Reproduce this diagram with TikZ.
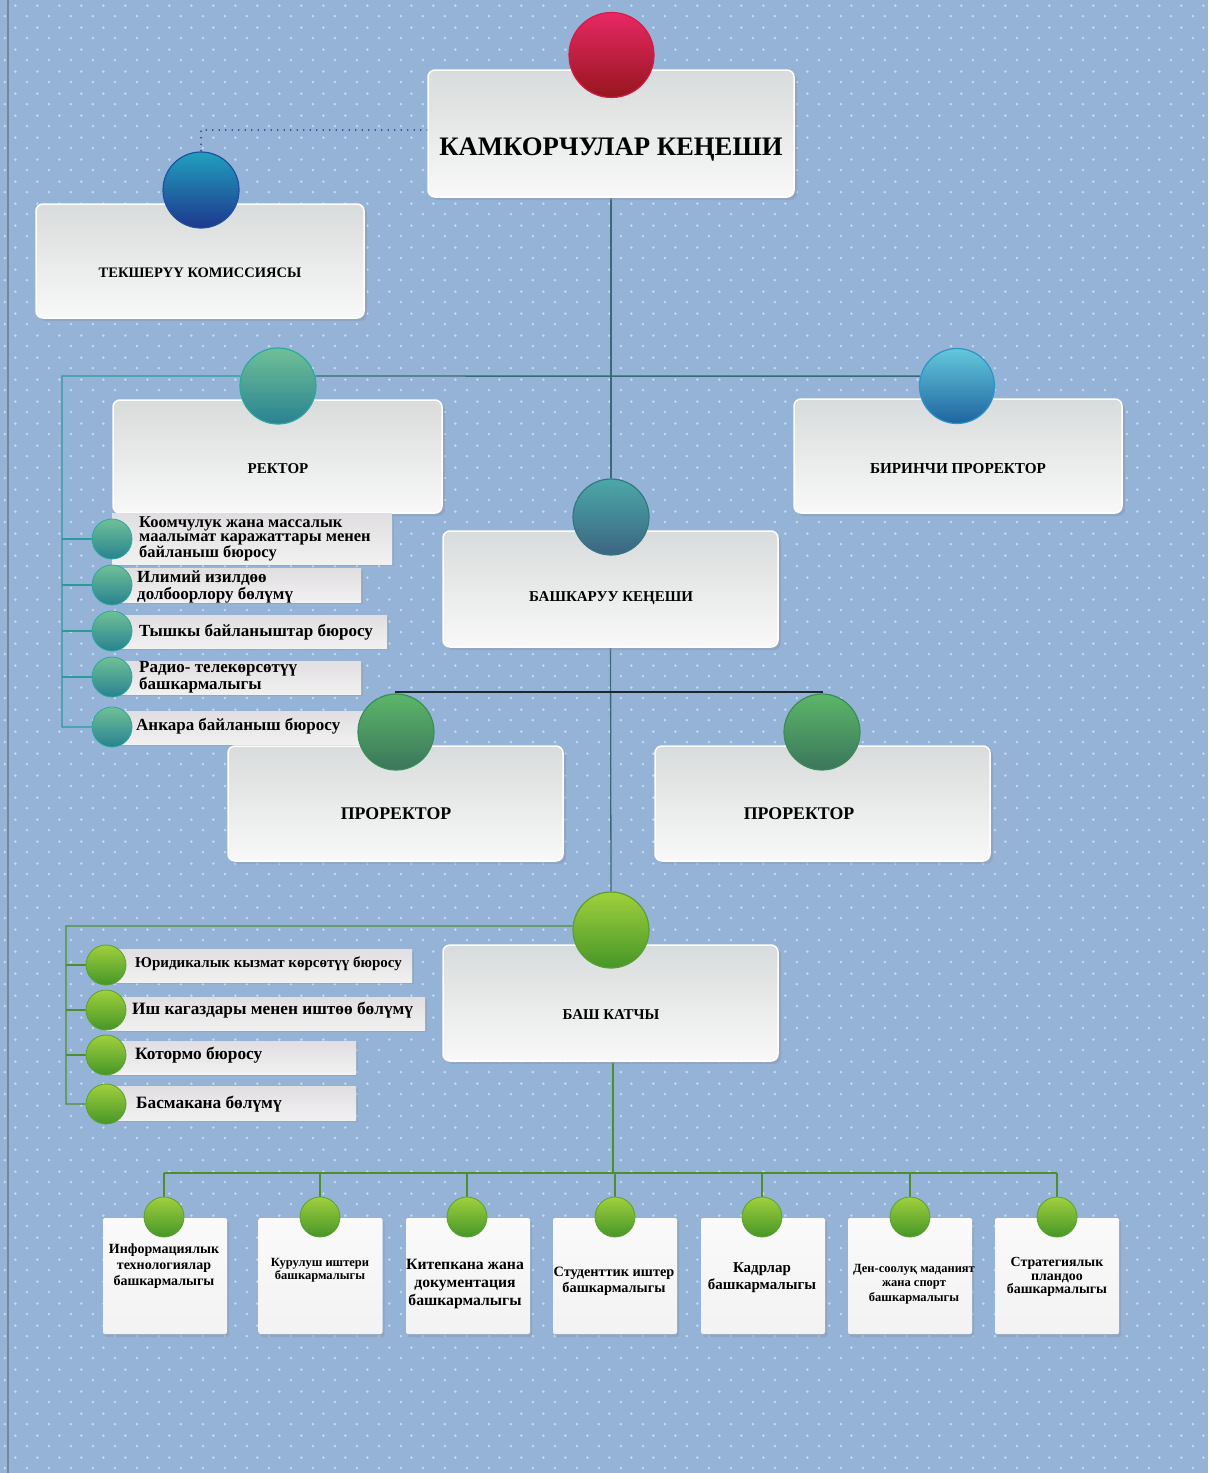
\documentclass[tikz,border=0pt]{standalone}
\usepackage{fontspec}
\setmainfont{Liberation Serif}
\usetikzlibrary{shadows,patterns,calc}
\pgfdeclarelayer{back}
\pgfdeclarelayer{lines}
\pgfsetlayers{back,lines,main}
\definecolor{bgblue}{HTML}{95B3D7}
\definecolor{dotc}{HTML}{C6DCEC}
\definecolor{boxtop}{HTML}{D9DCDC}
\definecolor{boxbot}{HTML}{F8F8F8}
\definecolor{shadowc}{HTML}{8A98AC}
\definecolor{bartop}{HTML}{E0DEE0}
\definecolor{barbot}{HTML}{F2F1F2}
\definecolor{trunkc}{HTML}{3E6878}
\definecolor{tealc}{HTML}{2A9A9C}
\definecolor{greenl}{HTML}{4E8E30}
\definecolor{dotline}{HTML}{24348A}
\pgfdeclarepatternformonly{bgdots}{\pgfqpoint{0pt}{0pt}}{\pgfqpoint{21.5pt}{21.5pt}}{\pgfqpoint{21.5pt}{21.5pt}}{%
  \pgfpathcircle{\pgfqpoint{5pt}{5pt}}{1.4pt}%
  \pgfpathcircle{\pgfqpoint{15.75pt}{15.75pt}}{1.4pt}%
  \pgfusepath{fill}}
\newcommand\fs[2]{\fontsize{#1}{#2}\selectfont}
\tikzset{
  bigbox/.style={rectangle, rounded corners=7pt, draw=white, line width=1.5pt,
    top color=boxtop, bottom color=boxbot, inner sep=0pt,
    drop shadow={shadow xshift=3pt, shadow yshift=-3pt, fill=shadowc, opacity=0.5}},
  bar/.style={rectangle, inner sep=0pt, top color=bartop, bottom color=barbot,
    drop shadow={shadow xshift=2pt, shadow yshift=-2pt, fill=shadowc, opacity=0.4}},
  card/.style={rectangle, rounded corners=2pt, inner sep=0pt, top color=white!96!gray, bottom color=white!90!gray,
    drop shadow={shadow xshift=2pt, shadow yshift=-3pt, fill=shadowc, opacity=0.5}},
  ball/.style={circle, inner sep=0pt, minimum size=#1, line width=1.2pt},
  redball/.style={top color={rgb,255:red,232;green,40;blue,100}, middle color={rgb,255:red,225;green,20;blue,70}, bottom color={rgb,255:red,150;green,22;blue,30}, draw={rgb,255:red,215;green,25;blue,70}},
  blueball/.style={top color={rgb,255:red,32;green,160;blue,190}, middle color={rgb,255:red,18;green,110;blue,170}, bottom color={rgb,255:red,30;green,55;blue,140}, draw={rgb,255:red,30;green,80;blue,160}},
  tealball/.style={top color={rgb,255:red,112;green,192;blue,150}, middle color={rgb,255:red,28;green,178;blue,176}, bottom color={rgb,255:red,40;green,130;blue,145}, draw={rgb,255:red,40;green,170;blue,160}},
  cyanball/.style={top color={rgb,255:red,100;green,200;blue,220}, middle color={rgb,255:red,24;green,178;blue,216}, bottom color={rgb,255:red,30;green,100;blue,160}, draw={rgb,255:red,40;green,150;blue,200}},
  slateball/.style={top color={rgb,255:red,76;green,168;blue,168}, bottom color={rgb,255:red,60;green,100;blue,130}, draw={rgb,255:red,50;green,120;blue,130}},
  dgreenball/.style={top color={rgb,255:red,92;green,182;blue,104}, bottom color={rgb,255:red,58;green,118;blue,92}, draw={rgb,255:red,60;green,140;blue,90}},
  lgreenball/.style={top color={rgb,255:red,160;green,208;blue,60}, middle color={rgb,255:red,120;green,190;blue,40}, bottom color={rgb,255:red,70;green,150;blue,40}, draw={rgb,255:red,90;green,160;blue,50}},
  lbl/.style={inner sep=0pt, text=black, font=\bfseries},
  conn/.style={line width=1.4pt},
}
\begin{document}
\begin{tikzpicture}[x=1pt,y=-1pt]
\useasboundingbox (0,0) rectangle (1208,1473);
\begin{pgfonlayer}{back}
  \fill[bgblue] (0,0) rectangle (1208,1473);
  \fill[pattern=bgdots, pattern color=dotc] (0,0) rectangle (1208,1473);
  \draw[line width=1.2pt, color={rgb,255:red,120;green,135;blue,155}] (8,0) -- (8,1473);
\end{pgfonlayer}

% ---- big boxes ----
\node[bigbox, minimum width=366pt, minimum height=127pt] (kkbox) at (611,133.5) {};
\node[bigbox, minimum width=328pt, minimum height=114pt] (tkbox) at (200,261) {};
\node[bigbox, minimum width=329pt, minimum height=113pt] (rbox) at (277.5,456.5) {};
\node[bigbox, minimum width=328pt, minimum height=114pt] (bpbox) at (958,456) {};

% ---- rector sub-items bars ----
\node[bar, minimum width=280pt, minimum height=51pt] (s1) at (252,538.5) {};
\node[bar, minimum width=249pt, minimum height=34pt] (s2) at (236.5,585) {};
\node[bar, minimum width=275pt, minimum height=33pt] (s3) at (249.5,631.5) {};
\node[bar, minimum width=249pt, minimum height=33pt] (s4) at (236.5,677.5) {};
\node[bar, minimum width=253pt, minimum height=33pt] (s5) at (238.5,727.5) {};

\node[bigbox, minimum width=335pt, minimum height=116pt] (bkbox) at (610.5,589) {};
\node[bigbox, minimum width=335pt, minimum height=115pt] (p1box) at (395.5,803.5) {};
\node[bigbox, minimum width=335pt, minimum height=115pt] (p2box) at (822.5,803.5) {};
\node[bigbox, minimum width=335pt, minimum height=116pt] (kbbox) at (610.5,1003) {};

% ---- secretary sub-item bars ----
\node[bar, minimum width=306pt, minimum height=33pt] (g1) at (259,965.5) {};
\node[bar, minimum width=319pt, minimum height=33pt] (g2) at (265.5,1013.5) {};
\node[bar, minimum width=250pt, minimum height=33pt] (g3) at (231,1057.5) {};
\node[bar, minimum width=250pt, minimum height=34pt] (g4) at (231,1103) {};

% ---- bottom cards ----
\foreach \n/\x in {1/165,2/320.5,3/468,4/615,5/763,6/910,7/1057}{
  \node[card, minimum width=124pt, minimum height=116pt] (b\n) at (\x,1276) {};
}

% ---- balls ----
\node[ball=85pt, redball] (kc) at (611.5,55) {};
\node[ball=76pt, blueball] (tc) at (201,190) {};
\node[ball=76pt, tealball] (rc) at (278,386) {};
\node[ball=75pt, cyanball] (bc) at (957,386) {};
\node[ball=76pt, slateball] (bkc) at (611,517) {};
\node[ball=76pt, dgreenball] (p1c) at (396,732) {};
\node[ball=76pt, dgreenball] (p2c) at (822,732) {};
\node[ball=76pt, lgreenball] (kbc) at (611,930) {};
\foreach \n/\y in {1/539,2/585,3/631,4/677,5/727}{
  \node[ball=40pt, tealball, line width=0.8pt] (sc\n) at (112,\y) {};
}
\foreach \n/\y in {1/965,2/1010,3/1055,4/1104}{
  \node[ball=40pt, lgreenball, line width=0.8pt] (gc\n) at (106,\y) {};
}
\foreach \n/\x in {1/164,2/320,3/467,4/615,5/762,6/910,7/1057}{
  \node[ball=40pt, lgreenball, line width=0.8pt] (bb\n) at (\x,1217) {};
}

% ---- texts ----
\node[lbl, font=\bfseries\fs{26.7}{30}, anchor=base] (kkt) at (611,155) {КАМКОРЧУЛАР КЕҢЕШИ};
\node[lbl, font=\bfseries\fs{14.5}{17}, anchor=base] (tkt) at (200,277) {ТЕКШЕРҮҮ КОМИССИЯСЫ};
\node[lbl, font=\bfseries\fs{15}{17}, anchor=base] (rt) at (278,473) {РЕКТОР};
\node[lbl, font=\bfseries\fs{15.2}{17}, anchor=base] (bpt) at (958,473) {БИРИНЧИ ПРОРЕКТОР};
\node[lbl, font=\bfseries\fs{15}{17}, anchor=base] (bkt) at (611,601) {БАШКАРУУ КЕҢЕШИ};
\node[lbl, font=\bfseries\fs{17.8}{19}, anchor=base] (p1t) at (396,819) {ПРОРЕКТОР};
\node[lbl, font=\bfseries\fs{17.8}{19}, anchor=base] (p2t) at (799,819) {ПРОРЕКТОР};
\node[lbl, font=\bfseries\fs{15}{17}, anchor=base] (kbt) at (611,1019) {БАШ КАТЧЫ};

\node[lbl, font=\bfseries\fs{16.5}{14.2}, align=left, anchor=west] (s1t) at (139,539) {Коомчулук жана массалык\\маалымат каражаттары менен\\байланыш бюросу};
\node[lbl, font=\bfseries\fs{17}{14.5}, align=left, anchor=west] (s2t) at (137,587) {Илимий изилдөө\\долбоорлору бөлүмү};
\node[lbl, font=\bfseries\fs{17}{14}, align=left, anchor=west] (s3t) at (139,632) {Тышкы байланыштар бюросу};
\node[lbl, font=\bfseries\fs{17}{14.5}, align=left, anchor=west] (s4t) at (139,677) {Радио- телекөрсөтүү\\башкармалыгы};
\node[lbl, font=\bfseries\fs{17}{14}, align=left, anchor=west] (s5t) at (136,726) {Анкара байланыш бюросу};

\node[lbl, font=\bfseries\fs{15}{14}, anchor=west] (g1t) at (135,964) {Юридикалык кызмат көрсөтүү бюросу};
\node[lbl, font=\bfseries\fs{17.3}{14}, anchor=west] (g2t) at (132,1010) {Иш кагаздары менен иштөө бөлүмү};
\node[lbl, font=\bfseries\fs{17.3}{14}, anchor=west] (g3t) at (135,1055) {Котормо бюросу};
\node[lbl, font=\bfseries\fs{17.3}{14}, anchor=west] (g4t) at (136,1104) {Басмакана бөлүмү};

\node[lbl, font=\bfseries\fs{14}{16}, align=center] (b1t) at (164,1266) {Информациялык\\технологиялар\\башкармалыгы};
\node[lbl, font=\bfseries\fs{12.5}{12.5}, align=center] (b2t) at (320,1270) {Курулуш иштери\\башкармалыгы};
\node[lbl, font=\bfseries\fs{15.7}{18}, align=center] (b3t) at (465,1284) {Китепкана жана\\документация\\башкармалыгы};
\node[lbl, font=\bfseries\fs{14.3}{16}, align=center] (b4t) at (614,1281) {Студенттик иштер\\башкармалыгы};
\node[lbl, font=\bfseries\fs{15}{17}, align=center] (b5t) at (762,1278) {Кадрлар\\башкармалыгы};
\node[lbl, font=\bfseries\fs{12.5}{14.5}, align=center] (b6t) at (914,1284) {Ден-соолуқ маданият\\жана спорт\\башкармалыгы};
\node[lbl, font=\bfseries\fs{13.9}{13.8}, align=center] (b7t) at (1057,1277) {Стратегиялык\\пландоо\\башкармалыгы};

% ---- connectors ----
\coordinate (tdot) at (201,130);
\coordinate (lb) at (62,376);
\coordinate (j2) at (611,692);
\coordinate (gb) at (66,926);
\coordinate (j3) at (613,1173);
\begin{pgfonlayer}{lines}
  \draw[dotline, line width=1.6pt, line cap=round, dash pattern=on 0pt off 6.5pt] (kkbox.west |- tdot) -- (tdot) -- (tc.north);
  \draw[conn, trunkc, line width=1.3pt] (kkbox.south) -- (bkc.north);
  \draw[conn, color={rgb,255:red,58;green,106;blue,114}] (rc.15) -- (bc.165);
  \draw[conn, tealc] (rc.165) -- (lb) -- (lb |- sc5) -- (sc5.west);
  \foreach \n in {1,2,3,4}{ \draw[conn, tealc] (lb |- sc\n) -- (sc\n.west); }
  \draw[conn, trunkc, line width=1.3pt] (bkbox.south) -- (kbc.north);
  \draw[conn, color={rgb,255:red,28;green,40;blue,44}, line width=1.2pt] (p1c.north) -- (p1c.north |- j2) -- (p2c.north |- j2) -- (p2c.north);
  \draw[conn, greenl] (kbc.174) -- (gb) -- (gb |- gc4) -- (gc4.west);
  \foreach \n in {1,2,3}{ \draw[conn, greenl] (gb |- gc\n) -- (gc\n.west); }
  \draw[conn, greenl] (kbbox.south -| j3) -- (j3);
  \draw[conn, greenl] (bb1.north |- j3) -- (bb7.north |- j3);
  \foreach \n in {1,...,7}{ \draw[conn, greenl] (bb\n.north |- j3) -- (bb\n.north); }
\end{pgfonlayer}
\end{tikzpicture}
\end{document}
